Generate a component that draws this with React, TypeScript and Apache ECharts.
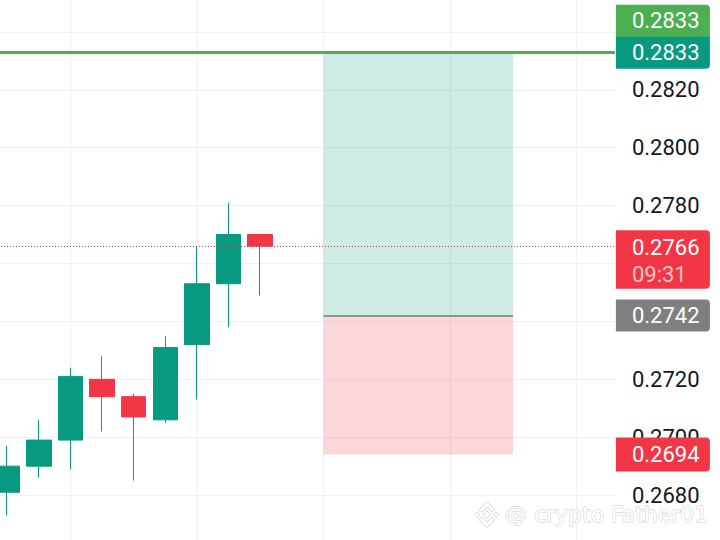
import React, { useEffect, useRef } from "react";
import * as echarts from "echarts";

// ---- data ----
const candleIndex = [0, 1, 2, 3, 4, 5, 6, 7, 8];
const opens = [0.2681, 0.2690, 0.2699, 0.2720, 0.2714, 0.2706, 0.2732, 0.2753, 0.2770];
const closes = [0.2690, 0.2699, 0.2721, 0.2714, 0.2707, 0.2731, 0.2753, 0.2770, 0.2766];
const lows = [0.2673, 0.2686, 0.2689, 0.2702, 0.2685, 0.2705, 0.2713, 0.2738, 0.2749];
const highs = [0.2697, 0.2706, 0.2724, 0.2728, 0.2715, 0.2735, 0.2766, 0.2781, 0.2770];

const targetPrice = 0.2833;
const entryPrice = 0.2742;
const stopPrice = 0.2694;
const lastPrice = 0.2766;
const countdownText = "09:31";
const positionStartIndex = 10;
const positionEndIndex = 16;

const yMin = 0.266;
const yMax = 0.286;
const yStep = 0.002;
const xMin = -2;
const xMax = 19.22;
const xStep = 4;

const watermarkText = "@ crypto Father01";

// ---- layout ----
const W = 720;
const H = 540;
const OFFX = 55.9; // chart canvas extends beyond the page on the left
const OFFY = 25.6; // and on the top
const OFFB = 13.4; // and on the bottom
const CW = W + OFFX;
const CH = H + OFFY + OFFB;
const GRID_RIGHT = 105;

const fmt = (v: number) => v.toFixed(4);

export default function App() {
  const ref = useRef<HTMLDivElement>(null);

  useEffect(() => {
    if (!ref.current) return;
    const chart = echarts.init(ref.current, undefined, { renderer: "svg", width: CW, height: CH });

    const option: any = {
      animation: false,
      backgroundColor: "#ffffff",
      grid: {
        left: 0,
        right: GRID_RIGHT,
        top: 0,
        bottom: 0,
        containLabel: false,
        outerBoundsMode: "none",
      },
      xAxis: {
        type: "value",
        min: xMin,
        max: xMax,
        interval: xStep,
        axisLine: { show: false },
        axisTick: { show: false },
        axisLabel: { show: false },
        splitLine: {
          show: true,
          showMinLine: false,
          showMaxLine: false,
          lineStyle: { color: "#f0f1f3", width: 1 },
        },
      },
      yAxis: {
        type: "value",
        position: "right",
        min: yMin,
        max: yMax,
        interval: yStep,
        axisLine: { show: false },
        axisTick: { show: false },
        axisLabel: {
          margin: 17,
          color: "#131722",
          fontSize: 22,
          fontFamily: "Roboto",
          showMinLabel: false,
          showMaxLabel: false,
          formatter: (v: number) => fmt(v),
        },
        splitLine: { show: true, lineStyle: { color: "#f0f1f3", width: 1 } },
      },
      series: [
        {
          type: "candlestick",
          data: candleIndex.map((x, i) => [x, opens[i], closes[i], lows[i], highs[i]]),
          barWidth: 25,
          clip: false,
          itemStyle: {
            color: "#089981",
            color0: "#F23645",
            borderColor: "#089981",
            borderColor0: "#F23645",
            borderWidth: 1,
          },
          markArea: {
            silent: true,
            data: [
              [
                { xAxis: positionStartIndex, yAxis: entryPrice, itemStyle: { color: "rgba(8,153,129,0.2)" } },
                { xAxis: positionEndIndex, yAxis: targetPrice },
              ],
              [
                { xAxis: positionStartIndex, yAxis: stopPrice, itemStyle: { color: "rgba(242,54,69,0.2)" } },
                { xAxis: positionEndIndex, yAxis: entryPrice },
              ],
            ],
          },
          markLine: {
            silent: true,
            symbol: ["none", "none"],
            label: { show: false },
            data: [
              [
                { coord: [xMin, targetPrice], lineStyle: { color: "#4CAF50", width: 3, type: "solid" } },
                { coord: [xMax, targetPrice] },
              ],
              [
                { coord: [xMin, lastPrice], lineStyle: { color: "#a34a52", width: 1, type: [1, 2] } },
                { coord: [xMax, lastPrice] },
              ],
              [
                { coord: [positionStartIndex, entryPrice], lineStyle: { color: "#7a7a7a", width: 1.5, type: "solid" } },
                { coord: [positionEndIndex, entryPrice] },
              ],
            ],
          },
        },
      ],
    };

    chart.setOption(option);

    const py = (p: number) => chart.convertToPixel({ yAxisIndex: 0 }, p) as number;
    const bx = CW - GRID_RIGHT + 1;
    const bw = 94;
    const tx = bx + 16;
    const font = { fontSize: 22, fontFamily: "Roboto" };

    const yT = py(targetPrice);
    const yL = py(lastPrice);
    const yE = py(entryPrice);
    const yS = py(stopPrice);

    // badge vertical spans: [top, height]
    const spans: [number, number][] = [
      [yT - 16.5 - 31, 32],
      [yT - 16.5, 33],
      [yL - 16, 58.5],
      [yE - 16, 32],
      [yS - 17, 34],
    ];

    const badge = (i: number, color: string, r: any) => ({
      type: "rect",
      z: 50,
      silent: true,
      shape: { x: bx, y: spans[i][0], width: bw, height: spans[i][1], r },
      style: { fill: color },
    });
    const label = (text: string, y: number, fill: string) => ({
      type: "text",
      z: 51,
      silent: true,
      x: tx,
      y,
      style: {
        text,
        fill,
        ...font,
        align: "left",
        verticalAlign: "middle",
        textAlign: "left",
        textVerticalAlign: "middle",
      },
    });

    // watermark logo (Binance-like diamond), decorative; page coords shifted into chart coords
    const lx = 487 + OFFX;
    const ly = 515 + OFFY;
    const wmStyle = { fill: "#ffffff", stroke: "#d4d4d4", lineWidth: 1 };
    const poly = (pts: number[][]) => ({
      type: "polygon",
      z: 60,
      silent: true,
      shape: { points: pts.map(([a, b]) => [lx + a, ly + b]) },
      style: wmStyle,
    });

    // axis labels hidden behind price badges are not drawn (as in the reference)
    const covered = (v: number) => {
      const y = py(v);
      return spans.some(([t, h]) => y >= t + 2 && y <= t + h);
    };

    chart.setOption({
      yAxis: {
        axisLabel: {
          formatter: (v: number) => (covered(v) ? "" : fmt(v)),
        },
      },
      graphic: [
        badge(1, "#089981", [0, 0, 4, 0]),
        badge(0, "#4CAF50", [0, 4, 0, 0]),
        label(fmt(targetPrice), yT - 16.5 - 15, "#ffffff"),
        label(fmt(targetPrice), yT, "#ffffff"),
        badge(2, "#F23645", [0, 4, 4, 0]),
        label(fmt(lastPrice), yL + 1, "#ffffff"),
        label(countdownText, yL + 28, "rgba(255,255,255,0.72)"),
        badge(3, "#7f7f7f", [0, 4, 4, 0]),
        label(fmt(entryPrice), yE, "#ffffff"),
        badge(4, "#F23645", [0, 4, 4, 0]),
        label(fmt(stopPrice), yS, "#ffffff"),
        poly([[0, -4], [4, 0], [0, 4], [-4, 0]]),
        poly([[-9.5, -2.6], [-6.9, 0], [-9.5, 2.6], [-12.1, 0]]),
        poly([[9.5, -2.6], [12.1, 0], [9.5, 2.6], [6.9, 0]]),
        poly([[-8, -5], [0, -13], [8, -5], [5.2, -2.3], [0, -7.5], [-5.2, -2.3]]),
        poly([[-8, 5], [0, 13], [8, 5], [5.2, 2.3], [0, 7.5], [-5.2, 2.3]]),
        {
          type: "text",
          z: 60,
          silent: true,
          x: 505 + OFFX,
          y: 515 + OFFY,
          style: {
            text: watermarkText,
            fill: "#ffffff",
            stroke: "#cccccc",
            lineWidth: 1,
            fontSize: 22,
            fontFamily: "DejaVu Sans",
            align: "left",
            verticalAlign: "middle",
            textAlign: "left",
            textVerticalAlign: "middle",
          },
        },
      ],
    });

    return () => {
      chart.dispose();
    };
  }, []);

  return (
    <div style={{ position: "fixed", left: 0, top: 0, width: W, height: H, overflow: "hidden", background: "#ffffff" }}>
      <div
        ref={ref}
        style={{ position: "absolute", left: -OFFX, top: -OFFY, width: CW, height: CH }}
      />
    </div>
  );
}
